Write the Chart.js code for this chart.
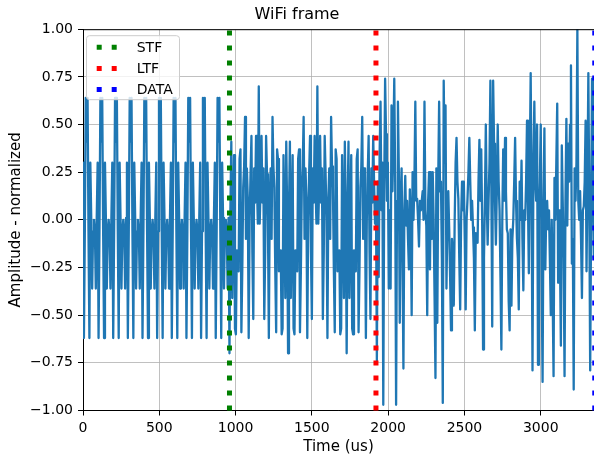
<!DOCTYPE html>
<html>
<head>
<meta charset="utf-8">
<title>WiFi frame</title>
<script src="https://cdn.jsdelivr.net/npm/chart.js@4.4.1/dist/chart.umd.min.js"></script>
<style>
  html, body { margin: 0; padding: 0; background: #fff; overflow: hidden; }
  #chart { display: block; }
</style>
</head>
<body>
<canvas id="chart" width="594" height="457"></canvas>
<script>
// Sample spacing on the time axis
const sampleStep = 6;

// Short training field (10 short symbols)
const stfValues = [
  0.30, -0.62, -0.06, 0.64, 0.41, 0.64, -0.06, -0.62, 0.30, 0.01, -0.36, -0.06, 0.00, -0.06, -0.36, 0.01,
  0.30, -0.62, -0.06, 0.64, 0.41, 0.64, -0.06, -0.62, 0.30, 0.01, -0.36, -0.06, 0.00, -0.06, -0.36, 0.01,
  0.30, -0.62, -0.06, 0.64, 0.41, 0.64, -0.06, -0.62, 0.30, 0.01, -0.36, -0.06, 0.00, -0.06, -0.36, 0.01,
  0.30, -0.62, -0.06, 0.64, 0.41, 0.64, -0.06, -0.62, 0.30, 0.01, -0.36, -0.06, 0.00, -0.06, -0.36, 0.01,
  0.30, -0.62, -0.06, 0.64, 0.41, 0.64, -0.06, -0.62, 0.30, 0.01, -0.36, -0.06, 0.00, -0.06, -0.36, 0.01,
  0.30, -0.62, -0.06, 0.64, 0.41, 0.64, -0.06, -0.62, 0.30, 0.01, -0.36, -0.06, 0.00, -0.06, -0.36, 0.01,
  0.30, -0.62, -0.06, 0.64, 0.41, 0.64, -0.06, -0.62, 0.30, 0.01, -0.36, -0.06, 0.00, -0.06, -0.36, 0.01,
  0.30, -0.62, -0.06, 0.64, 0.41, 0.64, -0.06, -0.62, 0.30, 0.01, -0.36, -0.06, 0.00, -0.06, -0.36, 0.01,
  0.30, -0.62, -0.06, 0.64, 0.41, 0.64, -0.06, -0.62, 0.30, 0.01, -0.36, -0.06, 0.00, -0.06, -0.36, 0.01,
  0.30, -0.62, -0.06, 0.64, 0.41, 0.64, -0.06, -0.62, 0.30, 0.01, -0.36, -0.06, 0.00, -0.06, -0.36, 0.01
];

// Long training field (guard interval + 2 long symbols)
const ltfValues = [
  -0.70, 0.05, 0.41, -0.41, -0.01, 0.34, -0.57, -0.60, -0.16, -0.25, -0.27, 0.32, 0.37, -0.59, -0.26, 0.17,
  0.28, 0.54, -0.10, 0.27, 0.11, -0.62, 0.00, 0.24, 0.44, -0.17, -0.52, 0.27, 0.09, 0.44, 0.18, -0.02,
  0.70, -0.02, 0.18, 0.44, 0.09, 0.27, -0.52, -0.17, 0.44, 0.24, 0.00, -0.62, 0.11, 0.27, -0.10, 0.54,
  0.28, 0.17, -0.26, -0.59, 0.37, 0.32, -0.27, -0.25, -0.16, -0.60, -0.57, 0.34, -0.01, -0.41, 0.41, 0.05,
  -0.70, 0.05, 0.41, -0.41, -0.01, 0.34, -0.57, -0.60, -0.16, -0.25, -0.27, 0.32, 0.37, -0.59, -0.26, 0.17,
  0.28, 0.54, -0.10, 0.27, 0.11, -0.62, 0.00, 0.24, 0.44, -0.17, -0.52, 0.27, 0.09, 0.44, 0.18, -0.02,
  0.70, -0.02, 0.18, 0.44, 0.09, 0.27, -0.52, -0.17, 0.44, 0.24, 0.00, -0.62, 0.11, 0.27, -0.10, 0.54,
  0.28, 0.17, -0.26, -0.59, 0.37, 0.32, -0.27, -0.25, -0.16, -0.60, -0.57, 0.34, -0.01, -0.41, 0.41, 0.05,
  -0.70, 0.05, 0.41, -0.41, -0.01, 0.34, -0.57, -0.60, -0.16, -0.25, -0.27, 0.32, 0.37, -0.59, -0.26, 0.17,
  0.28, 0.54, -0.10, 0.27, 0.11, -0.62, 0.00, 0.24, 0.44, -0.17, -0.52, 0.27, 0.09, 0.44, 0.18, -0.02
];

// Data part (SIGNAL + payload symbols)
const dataValues = [
  0.10, -0.74, 0.20, -0.30, 0.35, 0.62, 0.05, 0.30, -0.97, 0.15, 0.74, 0.45, 0.10, 0.30, -0.36, 0.05, -0.36, 0.60, 0.15, 0.40,
  0.74, 0.20, -0.97, 0.10, 0.62, 0.25, -0.54, 0.10, 0.27, -0.20, -0.78, 0.05, 0.23, -0.03, 0.10, -0.10, -0.26, 0.16, 0.00, -0.50,
  0.25, 0.00, 0.20, 0.62, 0.10, 0.11, 0.00, -0.14, 0.10, 0.05, 0.10, 0.15, 0.00, 0.62, 0.05, -0.03, -0.50, 0.10, 0.25, -0.26,
  0.25, -0.10, 0.25, 0.00, -0.40, -0.83, 0.27, -0.54, 0.20, 0.62, 0.15, 0.20, -0.20, -0.96, 0.73, 0.30, 0.60, -0.36, 0.00, 0.15,
  -0.05, -0.30, -0.58, -0.10, -0.18, -0.45, 0.00, 0.30, 0.43, 0.20, 0.11, -0.20, -0.47, 0.00, 0.20, 0.05, 0.20, -0.10, -0.47, 0.00,
  0.11, 0.25, 0.43, 0.20, 0.00, 0.10, -0.04, -0.20, -0.58, -0.07, -0.10, -0.12, 0.20, 0.42, 0.10, 0.37, 0.00, -0.68, -0.20, 0.10,
  0.50, 0.10, -0.13, 0.10, 0.30, 0.73, 0.20, -0.56, 0.73, 0.40, 0.10, -0.13, 0.15, 0.50, 0.20, 0.05, -0.30, -0.68, 0.00, 0.37,
  0.10, 0.43, 0.15, -0.05, -0.07, -0.43, -0.58, -0.05, -0.45, -0.10, 0.00, 0.20, 0.43, 0.10, -0.10, -0.20, -0.47, 0.20, 0.00, 0.31,
  -0.10, -0.37, 0.05, 0.00, 0.20, 0.52, 0.10, -0.28, 0.30, 0.77, 0.10, -0.79, 0.30, 0.62, 0.20, 0.10, 0.50, -0.76, 0.00, 0.20,
  0.50, -0.30, -0.85, 0.10, 0.48, -0.26, 0.05, 0.10, -0.05, 0.05, -0.22, -0.50, 0.00, -0.40, -0.82, 0.22, 0.00, 0.30, 0.61, -0.33,
  0.05, -0.20, -0.66, 0.39, 0.10, -0.20, -0.82, 0.10, 0.53, -0.03, 0.40, 0.20, 0.50, 0.81, -0.23, -0.10, -0.89, 0.27, 0.10, 0.30,
  1.00, 0.10, 0.00, 0.15, -0.10, -0.41, 0.05, 0.07, 0.20, 0.52, -0.27, 0.20, 0.77, 0.10, -0.79, 0.00, 0.74, 0.20, -0.20, 0.10
];

// Field boundaries
const markerLabels = ['STF', 'LTF', 'DATA'];
const markerTimes = [960, 1920, 3354];

// Axes
const xTicks = [0, 500, 1000, 1500, 2000, 2500, 3000];
const yTicks = [-1, -0.75, -0.5, -0.25, 0, 0.25, 0.5, 0.75, 1];
const xMax = 3349;

const markerColors = ['#008000', '#ff0000', '#0000ff'];
const fontFamily = '"DejaVu Sans", "Liberation Sans", sans-serif';

Chart.defaults.font.family = fontFamily;
Chart.defaults.color = '#000';

const signal = stfValues.concat(ltfValues, dataValues);
const signalPoints = signal.map((v, i) => ({x: i * sampleStep, y: v}));

const markerSets = markerLabels.map((label, i) => ({
    label: label,
    data: [{x: markerTimes[i], y: -1}, {x: markerTimes[i], y: 1}],
    borderColor: markerColors[i],
    borderWidth: 5,
    borderDash: [5, 10],
    borderCapStyle: 'butt',
    pointRadius: 0,
    clip: false,
    order: i + 1
}));

// matplotlib-like legend inside the axes + top spine
const axesExtras = {
    id: 'axesExtras',
    afterDatasetsDraw(chart) {
        const {ctx, chartArea} = chart;
        ctx.save();

        // top spine
        ctx.strokeStyle = '#000';
        ctx.lineWidth = 1;
        ctx.beginPath();
        ctx.moveTo(chartArea.left, chartArea.top + 0.5);
        ctx.lineTo(chartArea.right + 2, chartArea.top + 0.5);
        ctx.stroke();

        // legend box
        const bx = chartArea.left + 3.5, by = chartArea.top + 6.5, bw = 93, bh = 64, r = 3;
        ctx.beginPath();
        ctx.moveTo(bx + r, by);
        ctx.lineTo(bx + bw - r, by);
        ctx.arcTo(bx + bw, by, bx + bw, by + r, r);
        ctx.lineTo(bx + bw, by + bh - r);
        ctx.arcTo(bx + bw, by + bh, bx + bw - r, by + bh, r);
        ctx.lineTo(bx + r, by + bh);
        ctx.arcTo(bx, by + bh, bx, by + bh - r, r);
        ctx.lineTo(bx, by + r);
        ctx.arcTo(bx, by, bx + r, by, r);
        ctx.closePath();
        ctx.fillStyle = 'rgba(255,255,255,0.8)';
        ctx.fill();
        ctx.strokeStyle = '#cccccc';
        ctx.stroke();

        ctx.font = '14px ' + fontFamily;
        ctx.textBaseline = 'middle';
        ctx.textAlign = 'left';
        markerLabels.forEach((label, i) => {
            const rowY = by + 11.5 + i * 21.2;
            ctx.strokeStyle = markerColors[i];
            ctx.lineWidth = 5;
            ctx.lineCap = 'butt';
            ctx.setLineDash([5, 10]);
            ctx.beginPath();
            ctx.moveTo(bx + 10.2, rowY);
            ctx.lineTo(bx + 30.2, rowY);
            ctx.stroke();
            ctx.setLineDash([]);
            ctx.fillStyle = '#000';
            ctx.fillText(label, bx + 50.2, rowY + 1);
        });
        ctx.restore();
    }
};

new Chart(document.getElementById('chart'), {
    type: 'line',
    data: {
        datasets: [
            ...markerSets,
            {
                label: 'signal',
                data: signalPoints,
                borderColor: '#1f77b4',
                borderWidth: 2.3,
                borderJoinStyle: 'round',
                pointRadius: 0,
                tension: 0,
                order: 10
            }
        ]
    },
    options: {
        responsive: false,
        animation: false,
        events: [],
        layout: {padding: 0},
        plugins: {
            legend: {display: false},
            tooltip: {enabled: false},
            title: {
                display: true,
                text: 'WiFi frame',
                color: '#000',
                font: {size: 16, weight: 'normal'},
                padding: {top: 5, bottom: 5}
            }
        },
        scales: {
            x: {
                type: 'linear',
                min: 0,
                max: xMax,
                afterBuildTicks: axis => { axis.ticks = xTicks.map(v => ({value: v})); },
                afterFit: axis => { axis.height = 46.5; },
                ticks: {font: {size: 14}, padding: 4, maxRotation: 0, callback: v => String(v)},
                grid: {color: '#b0b0b0', lineWidth: 0.8, tickColor: '#000', tickLength: 5, tickWidth: 1},
                border: {color: '#000', width: 1},
                title: {display: true, text: 'Time (us)', font: {size: 15}, padding: {top: 0, bottom: 1}}
            },
            y: {
                type: 'linear',
                min: -1,
                max: 1,
                afterBuildTicks: axis => { axis.ticks = yTicks.map(v => ({value: v})); },
                afterFit: axis => { axis.width = 83; },
                ticks: {font: {size: 14}, padding: 5, callback: v => v.toFixed(2).replace('-', '\u2212')},
                grid: {color: '#b0b0b0', lineWidth: 0.8, tickColor: '#000', tickLength: 5, tickWidth: 1},
                border: {color: '#000', width: 1},
                title: {display: true, text: 'Amplitude - normalized', font: {size: 15}, padding: {top: 7, bottom: 0}}
            }
        }
    },
    plugins: [axesExtras]
});
</script>
</body>
</html>
